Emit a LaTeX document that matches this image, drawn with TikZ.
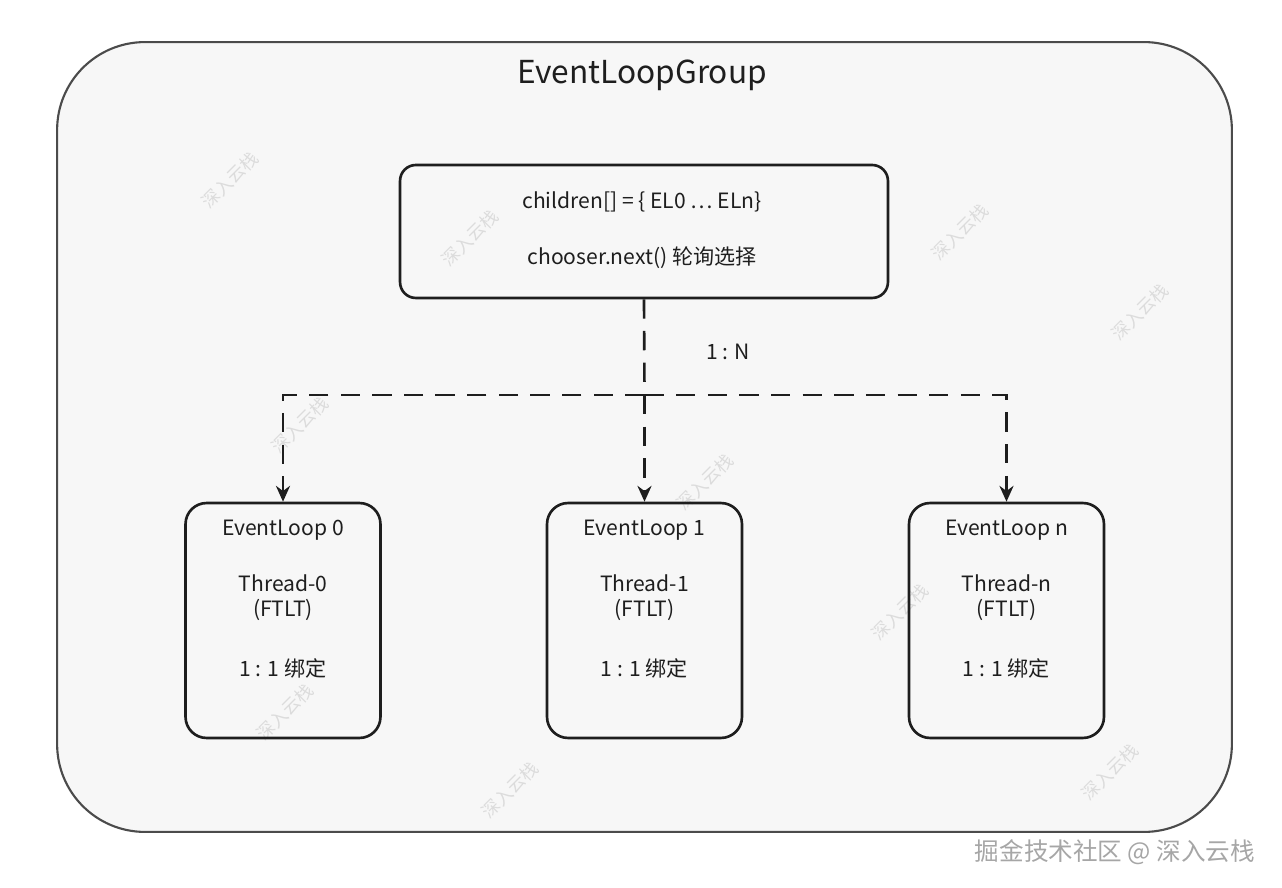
\documentclass[tikz,border=0pt]{standalone}
\usepackage{fontspec}
\setmainfont{Noto Sans CJK SC}
\usetikzlibrary{arrows.meta}

\definecolor{ink}{HTML}{1E1E1E}
\definecolor{paper}{HTML}{F7F7F7}
\definecolor{wmark}{HTML}{DCDCDC}

\begin{document}
\begin{tikzpicture}[x=0.02cm,y=-0.02cm,
    group/.style={draw=ink!80, line width=1.2pt, rounded corners=50pt, fill=paper,
                  minimum width=23.5cm, minimum height=15.8cm},
    box/.style={draw=ink, line width=1.5pt, inner sep=0pt},
    label/.style={text=ink, font=\fontsize{12}{14}\selectfont},
    link/.style={draw=ink, line width=1.5pt, dash pattern=on 11pt off 7pt},
    tip/.style={-{Stealth[length=9pt,width=8pt]}},
    wm/.style={text=wmark, rotate=45, inner sep=0pt, font=\fontsize{10}{12}\selectfont}]
    \useasboundingbox (0,0) rectangle (1282,888);

    % outer group
    \node[group] (group) at (644.5,437) {};
    \node[text=ink, font=\fontsize{18}{20}\selectfont] (title) at (642,75) {EventLoopGroup};

    % watermarks
    \foreach \wx/\wy [count=\i] in {230/180, 470/238, 960/232, 1140/312, 300/425,
                                    285/712, 900/612, 1110/772, 510/790, 705/482}
        \node[wm] (wm\i) at (\wx,\wy) {深入云栈};

    % chooser
    \node[box, rounded corners=9pt, minimum width=9.76cm, minimum height=2.66cm]
        (chooser) at (644,231.5) {};
    \node[label] (children) at (642,202) {children[] = \{ EL0 … ELn\}};
    \node[label] (next) at (642,258) {chooser.next() 轮询选择};

    % event loops
    \foreach \name/\lx/\idx in {loop0/283/0, loop1/644.5/1, loopn/1006.5/n} {
        \node[box, rounded corners=12pt, minimum width=3.9cm, minimum height=4.7cm]
            (\name) at (\lx,620.5) {};
        \node[label] (\name-head) at (\lx,530) {EventLoop \idx};
        \node[label] (\name-thread) at (\lx,583) {Thread-\idx};
        \node[label] (\name-ftlt) at (\lx,610) {(FTLT)};
        \node[label] (\name-bind) at (\lx,668) {1 : 1 绑定};
    }

    % connectors
    \coordinate (fork) at (644.5,395);
    \draw[link] (chooser.south) -- (fork);
    \draw[link,tip] (fork) -- (loop1.north);
    \draw[link,tip] (fork) -| (loop0.north);
    \draw[link,tip] (fork) -| (loopn.north);
    \node[label] (ratio) at (728,352) {1 : N};

    % footer
    \node[text=gray!70, font=\fontsize{14}{16}\selectfont] (footer) at (1115,852)
        {掘金技术社区 @ 深入云栈};
\end{tikzpicture}
\end{document}
